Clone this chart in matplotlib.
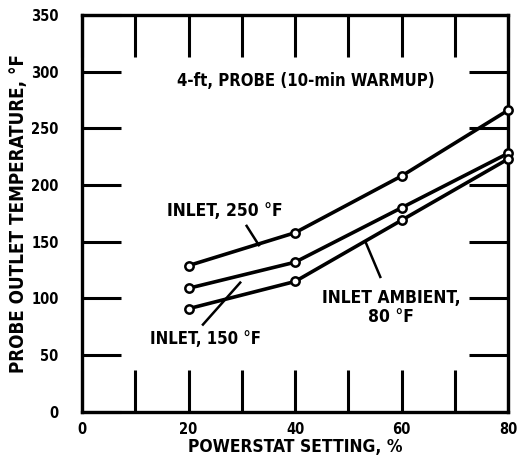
import matplotlib.pyplot as plt

# powerstat setting, % and probe outlet temperature, F
powerstat = [20, 40, 60, 80]
inlet_250 = [129, 158, 208, 266]
inlet_150 = [109, 132, 180, 228]
inlet_ambient = [91, 115, 169, 223]

y_ticks = [0, 50, 100, 150, 200, 250, 300, 350]

FONT = dict(family='DejaVu Sans', weight='bold', stretch='condensed')

fig = plt.figure(figsize=(5.26, 4.67), dpi=100)
ax = fig.add_axes([0.156, 0.118, 0.81, 0.85])

for series in (inlet_250, inlet_150, inlet_ambient):
    ax.plot(powerstat, series, color='black', lw=2.6, marker='o', ms=6,
            mfc='white', mec='black', mew=1.8, clip_on=False, zorder=3)

ax.set_xlim(0, 80)
ax.set_ylim(0, 350)
for side in ax.spines.values():
    side.set_linewidth(2.4)

# long inward ticks on all four sides, as on the original graph paper
ax.set_xticks(range(0, 81, 10))
ax.set_xticklabels(['0', '', '20', '', '40', '', '60', '', '80'], fontsize=10.5, **FONT)
ax.set_yticks(y_ticks)
ax.set_yticklabels([str(v) for v in y_ticks], fontsize=10.5, **FONT)
ax.tick_params(axis='x', direction='in', length=30, width=2.2, top=True, pad=7)
ax.tick_params(axis='y', direction='in', length=28, width=2.2, right=True, pad=17)

ax.set_xlabel('POWERSTAT SETTING, %', fontsize=12.5, labelpad=1, **FONT)
ax.set_ylabel('PROBE OUTLET TEMPERATURE, \u00b0F', fontsize=13.5, labelpad=2, **FONT)

ax.text(42, 292, '4-ft, PROBE (10-min WARMUP)', ha='center', va='center',
        fontsize=12, **FONT)

ax.text(16, 177, 'INLET, 250 \u00b0F', ha='left', va='center', fontsize=12.5, **FONT)
ax.plot([30.9, 33.2], [164, 147], color='black', lw=1.8)

ax.text(58, 92, 'INLET AMBIENT,\n80 \u00b0F', ha='center', va='center',
        fontsize=12.5, linespacing=1.1, **FONT)
ax.plot([53.3, 56], [149, 119], color='black', lw=1.8)

ax.text(12.8, 64, 'INLET, 150 \u00b0F', ha='left', va='center', fontsize=12, **FONT)
ax.plot([22.7, 29.7], [77, 114], color='black', lw=1.8)

fig.savefig('out.png', dpi=100)
